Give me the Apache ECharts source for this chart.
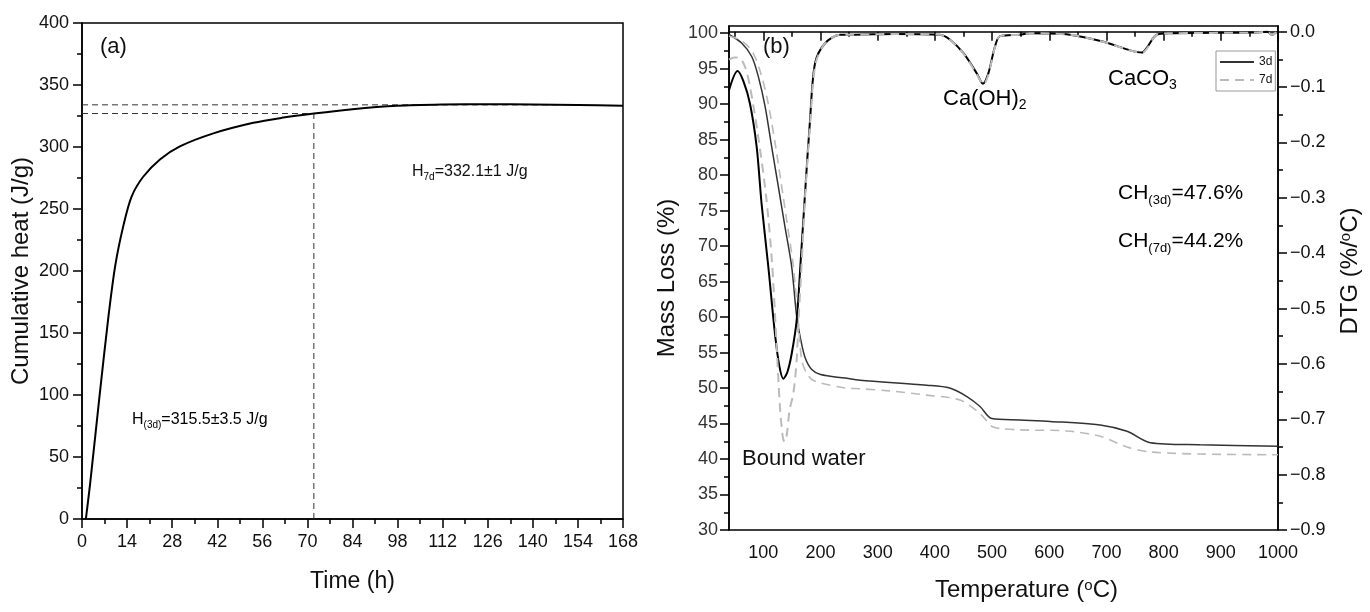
<!DOCTYPE html>
<html><head><meta charset="utf-8">
<script src="https://cdn.jsdelivr.net/npm/echarts@6/dist/echarts.min.js"></script>
<style>html,body{margin:0;padding:0;background:#fff}#c{width:1370px;height:612px}</style>
</head><body><div id="c"></div>
<script>
const FONT = "'Liberation Sans', Arial, sans-serif";

// ---------- Panel (a): cumulative heat ----------
const heatTime  = [1.2, 2.5, 5.4, 8.2, 10.3, 12.8, 15.4, 19.0, 24.2, 30.4, 40.8, 53.2, 62, 72, 84, 98, 112, 126, 140, 154, 168];
const heatValue = [0, 28, 98, 163, 204, 236, 260, 276, 290, 300.5, 311, 319.5, 323.5, 327, 330.5, 333.2, 334.2, 334.5, 334.3, 333.9, 333.3];
const h7dLevel = 334;
const h3dLevel = 327;
const t3d = 72;
const h7dLineEnd = 150;

// ---------- Panel (b): TG / DTG ----------
const tgTemp3d = [40, 62, 79.7, 91.2, 103, 114.6, 126.2, 137.9, 149.6, 158.3, 165, 173, 184.7, 200, 243, 269, 386, 426, 456, 479, 499.6, 549, 601.6, 689, 736, 776.6, 864, 1000];
const tgMass3d = [99.8, 98.6, 96.7, 93.9, 89.7, 84.0, 78.4, 72.7, 67.1, 60.1, 57.0, 54.3, 52.6, 51.9, 51.4, 51.1, 50.4, 50.0, 48.8, 47.4, 45.7, 45.5, 45.3, 44.8, 43.9, 42.3, 42.0, 41.8];

const tgTemp7d = [40, 60, 80, 95, 108, 120, 131, 142, 152, 160, 167, 175, 185, 200, 243, 269, 320, 386, 444, 479, 499.6, 514, 549, 631, 689, 736, 776.6, 864, 1000];
const tgMass7d = [99.6, 99.0, 97.5, 94.5, 90.3, 84.8, 79.0, 73.0, 67.5, 60.5, 54.0, 52.2, 51.2, 50.7, 50.0, 49.9, 49.6, 49.0, 48.3, 46.4, 44.6, 44.3, 44.1, 43.95, 43.2, 41.7, 41.0, 40.7, 40.6];

const dtgTemp3d = [40, 55, 65, 76.7, 88.4, 97, 108.8, 120.4, 128, 135, 142, 149.6, 158.3, 165, 173, 181.7, 190.5, 208, 234, 252, 330, 409, 426.6, 450, 473, 484, 493.6, 505, 514, 549, 566, 636, 695, 741.5, 762, 770, 788, 811, 957, 981, 989, 998];
const dtgRate3d = [-0.1056, -0.0709, -0.0889, -0.130, -0.208, -0.311, -0.425, -0.546, -0.6036, -0.6267, -0.615, -0.5817, -0.5214, -0.420, -0.2917, -0.1595, -0.0568, -0.0208, -0.0055, -0.0055, -0.0040, -0.0055, -0.0144, -0.0388, -0.0748, -0.094, -0.0748, -0.0273, -0.008, -0.0055, -0.0029, -0.0055, -0.0183, -0.0337, -0.0376, -0.0298, -0.0055, -0.0029, -0.0016, -0.0003, -0.0055, -0.0003];

const dtgTemp7d = [40, 50, 59, 68, 76.7, 91, 105, 115, 122, 129, 134, 137, 141, 146, 152.5, 158.3, 161, 166, 173, 182, 191, 208, 234, 252, 330, 409, 426.6, 450, 473, 485, 494, 505, 514, 549, 566, 636, 695, 741.5, 763, 771, 788, 811, 957, 981, 989, 998];
const dtgRate7d = [-0.0504, -0.0465, -0.0478, -0.0633, -0.0991, -0.189, -0.298, -0.4136, -0.5419, -0.6766, -0.7318, -0.7408, -0.728, -0.6831, -0.6536, -0.5932, -0.5328, -0.4393, -0.298, -0.1633, -0.0593, -0.0208, -0.0055, -0.0055, -0.0040, -0.0055, -0.0150, -0.0395, -0.0760, -0.0955, -0.0760, -0.0280, -0.008, -0.0055, -0.0029, -0.0055, -0.0185, -0.0340, -0.0380, -0.0300, -0.0055, -0.0029, -0.0016, -0.0003, -0.0055, -0.0003];

// tick labels
const tempTicks  = [100, 200, 300, 400, 500, 600, 700, 800, 900, 1000];
const tempMinor  = [50, 150, 250, 350, 450, 550, 650, 750, 850, 950];
const massTicks  = [30, 35, 40, 45, 50, 55, 60, 65, 70, 75, 80, 85, 90, 95, 100];
const massMinor  = [32.5, 37.5, 42.5, 47.5, 52.5, 57.5, 62.5, 67.5, 72.5, 77.5, 82.5, 87.5, 92.5, 97.5];
const dtgTicks   = [-0.9, -0.8, -0.7, -0.6, -0.5, -0.4, -0.3, -0.2, -0.1, 0.0];
const dtgMinor   = [-0.85, -0.75, -0.65, -0.55, -0.45, -0.35, -0.25, -0.15, -0.05];

const zip = (xs, ys) => xs.map((x, i) => [x, ys[i]]);

const chart = echarts.init(document.getElementById('c'), null, {renderer: 'canvas'});

const axisLineStyle = {color: '#000', width: 1.5};
const labelStyle = (size, color) => ({fontSize: size, fontFamily: FONT, color: color || '#111'});
const supRich = (base) => ({sup: {fontSize: Math.round(base * 0.62), fontFamily: FONT, color: '#111', verticalAlign: 'top', lineHeight: 10}});

const option = {
  animation: false,
  backgroundColor: '#fff',
  grid: [
    {left: 82, top: 23, width: 541, height: 496, show: true, borderColor: '#000', borderWidth: 1.5, backgroundColor: 'transparent'},
    {left: 729, top: 26, width: 549, height: 504, show: true, borderColor: '#000', borderWidth: 1.5, backgroundColor: 'transparent'}
  ],
  legend: {
    left: 1216, top: 51, orient: 'vertical', data: ['3d', '7d'],
    itemWidth: 34, itemHeight: 12, itemGap: 6, padding: [5, 3, 5, 3],
    borderColor: '#999', borderWidth: 1, selectedMode: false,
    itemStyle: {opacity: 0, borderWidth: 0},
    textStyle: {fontSize: 12, fontFamily: FONT, color: '#111'}
  },
  xAxis: [
    {
      gridIndex: 0, type: 'value', min: 0, max: 168, interval: 14,
      axisLine: {show: true, lineStyle: axisLineStyle},
      axisTick: {show: true, inside: false, length: 9, lineStyle: axisLineStyle},
      minorTick: {show: true, splitNumber: 2, length: 5, lineStyle: axisLineStyle},
      axisLabel: Object.assign({margin: 14}, labelStyle(18)),
      splitLine: {show: false},
      name: 'Time (h)', nameLocation: 'middle', nameGap: 51,
      nameTextStyle: {fontSize: 23, fontFamily: FONT, color: '#111'}
    },
    {
      gridIndex: 1, type: 'value', min: 40, max: 1000, position: 'bottom',
      axisLine: {show: true, lineStyle: axisLineStyle},
      axisTick: {show: true, inside: false, length: 9, customValues: tempTicks, lineStyle: axisLineStyle},
      axisLabel: Object.assign({margin: 14, customValues: tempTicks, formatter: v => String(v)}, labelStyle(18)),
      splitLine: {show: false},
      name: 'Temperature ({sup|o}C)', nameLocation: 'middle', nameGap: 48,
      nameTextStyle: {fontSize: 24, fontFamily: FONT, color: '#111', padding: [0, 0, 0, 46], rich: supRich(24)}
    },
    {
      gridIndex: 1, type: 'value', min: 40, max: 1000, position: 'bottom',
      axisLine: {show: false},
      axisTick: {show: true, inside: false, length: 5, customValues: tempMinor, lineStyle: axisLineStyle},
      axisLabel: {show: false}, splitLine: {show: false}
    }
  ],
  yAxis: [
    {
      gridIndex: 0, type: 'value', min: 0, max: 400, interval: 50,
      axisLine: {show: true, lineStyle: axisLineStyle},
      axisTick: {show: true, inside: false, length: 9, lineStyle: axisLineStyle},
      minorTick: {show: true, splitNumber: 2, length: 5, lineStyle: axisLineStyle},
      axisLabel: Object.assign({margin: 13}, labelStyle(18)),
      splitLine: {show: false},
      name: 'Cumulative heat (J/g)', nameLocation: 'middle', nameGap: 49,
      nameTextStyle: {fontSize: 24, fontFamily: FONT, color: '#111'}
    },
    {
      gridIndex: 1, type: 'value', min: 30, max: 101, position: 'left',
      axisLine: {show: true, lineStyle: axisLineStyle},
      axisTick: {show: true, inside: false, length: 9, customValues: massTicks, lineStyle: axisLineStyle},
      axisLabel: Object.assign({margin: 11, customValues: massTicks}, labelStyle(18, '#333')),
      splitLine: {show: false},
      name: 'Mass Loss (%)', nameLocation: 'middle', nameGap: 50,
      nameTextStyle: {fontSize: 24, fontFamily: FONT, color: '#111'}
    },
    {
      gridIndex: 1, type: 'value', min: -0.9, max: 0.0103, position: 'right',
      axisLine: {show: true, lineStyle: axisLineStyle},
      axisTick: {show: true, inside: false, length: 9, customValues: dtgTicks, lineStyle: axisLineStyle},
      axisLabel: Object.assign({margin: 12, customValues: dtgTicks,
        formatter: v => (Math.abs(v) < 1e-9 ? '0.0' : (v < 0 ? '\u2212' : '') + Math.abs(v).toFixed(1))}, labelStyle(18)),
      splitLine: {show: false},
      name: 'DTG (%/{sup|o}C)', nameLocation: 'middle', nameGap: 60, nameRotate: 90,
      nameTextStyle: {fontSize: 24, fontFamily: FONT, color: '#111', padding: [0, 0, 0, 14], rich: supRich(24)}
    },
    {
      gridIndex: 1, type: 'value', min: 30, max: 101, position: 'left',
      axisLine: {show: false},
      axisTick: {show: true, inside: false, length: 5, customValues: massMinor, lineStyle: axisLineStyle},
      axisLabel: {show: false}, splitLine: {show: false}
    },
    {
      gridIndex: 1, type: 'value', min: -0.9, max: 0.0103, position: 'right',
      axisLine: {show: false},
      axisTick: {show: true, inside: false, length: 5, customValues: dtgMinor, lineStyle: axisLineStyle},
      axisLabel: {show: false}, splitLine: {show: false}
    }
  ],
  series: [
    // panel (a) reference lines
    {type: 'line', name: 'ref1', xAxisIndex: 0, yAxisIndex: 0, symbol: 'none', silent: true,
      data: [[0, h7dLevel], [h7dLineEnd, h7dLevel]], lineStyle: {color: '#333', width: 1, type: [6, 4]}},
    {type: 'line', name: 'ref2', xAxisIndex: 0, yAxisIndex: 0, symbol: 'none', silent: true,
      data: [[0, h3dLevel], [t3d, h3dLevel]], lineStyle: {color: '#333', width: 1, type: [6, 4]}},
    {type: 'line', name: 'ref3', xAxisIndex: 0, yAxisIndex: 0, symbol: 'none', silent: true,
      data: [[t3d, 0], [t3d, h3dLevel]], lineStyle: {color: '#333', width: 1, type: [6, 4]}},
    {type: 'line', name: 'heat', xAxisIndex: 0, yAxisIndex: 0, symbol: 'none', silent: true,
      smooth: 0.3,
      data: zip(heatTime, heatValue), lineStyle: {color: '#000', width: 2}},
    // panel (b)
    {type: 'line', name: '3d', xAxisIndex: 1, yAxisIndex: 1, symbol: 'none', silent: true,
      smooth: 0.3,
      data: zip(tgTemp3d, tgMass3d), lineStyle: {color: '#333', width: 1.5}, itemStyle: {color: '#333'}},
    {type: 'line', name: '7d', xAxisIndex: 1, yAxisIndex: 1, symbol: 'none', silent: true,
      smooth: 0.3,
      data: zip(tgTemp7d, tgMass7d), lineStyle: {color: '#bbb', width: 1.6, type: [9, 6]}, itemStyle: {color: '#bbb'}},
    {type: 'line', name: '3d', xAxisIndex: 1, yAxisIndex: 2, symbol: 'none', silent: true,
      smooth: 0.3,
      data: zip(dtgTemp3d, dtgRate3d), lineStyle: {color: '#000', width: 2}, itemStyle: {color: '#000'}},
    {type: 'line', name: '7d', xAxisIndex: 1, yAxisIndex: 2, symbol: 'none', silent: true,
      smooth: 0.3,
      data: zip(dtgTemp7d, dtgRate7d), lineStyle: {color: '#bbb', width: 2, type: [9, 6]}, itemStyle: {color: '#bbb'}}
  ],
  graphic: [
    {type: 'text', left: 100, top: 36, style: {text: '(a)', font: '22px ' + FONT, fill: '#111'}},
    {type: 'text', left: 412, top: 164, style: {
      text: '{m|H}{s|7d}{m|=332.1\u00b11 J/g}',
      rich: {m: {fontSize: 16, fontFamily: FONT, lineHeight: 20, fill: '#111'}, s: {fontSize: 10, fontFamily: FONT, verticalAlign: 'bottom', lineHeight: 12}}}},
    {type: 'text', left: 132, top: 412, style: {
      text: '{m|H}{s|(3d)}{m|=315.5\u00b13.5 J/g}',
      rich: {m: {fontSize: 16, fontFamily: FONT, lineHeight: 20}, s: {fontSize: 10, fontFamily: FONT, verticalAlign: 'bottom', lineHeight: 12}}}},
    {type: 'text', left: 763, top: 36, style: {text: '(b)', font: '22px ' + FONT, fill: '#111'}},
    {type: 'text', left: 943, top: 88, style: {
      text: '{m|Ca(OH)}{s|2}',
      rich: {m: {fontSize: 22, fontFamily: FONT, lineHeight: 26}, s: {fontSize: 14, fontFamily: FONT, verticalAlign: 'bottom', lineHeight: 16}}}},
    {type: 'text', left: 1108, top: 68, style: {
      text: '{m|CaCO}{s|3}',
      rich: {m: {fontSize: 22, fontFamily: FONT, lineHeight: 26}, s: {fontSize: 14, fontFamily: FONT, verticalAlign: 'bottom', lineHeight: 16}}}},
    {type: 'text', left: 1118, top: 183, style: {
      text: '{m|CH}{s|(3d)}{m|=47.6%}',
      rich: {m: {fontSize: 21, fontFamily: FONT, lineHeight: 26}, s: {fontSize: 13, fontFamily: FONT, verticalAlign: 'bottom', lineHeight: 15}}}},
    {type: 'text', left: 1118, top: 231, style: {
      text: '{m|CH}{s|(7d)}{m|=44.2%}',
      rich: {m: {fontSize: 21, fontFamily: FONT, lineHeight: 26}, s: {fontSize: 13, fontFamily: FONT, verticalAlign: 'bottom', lineHeight: 15}}}},
    {type: 'text', left: 742, top: 448, style: {text: 'Bound water', font: '22px ' + FONT, fill: '#111'}}
  ]
};
chart.setOption(option);
</script>
</body></html>
